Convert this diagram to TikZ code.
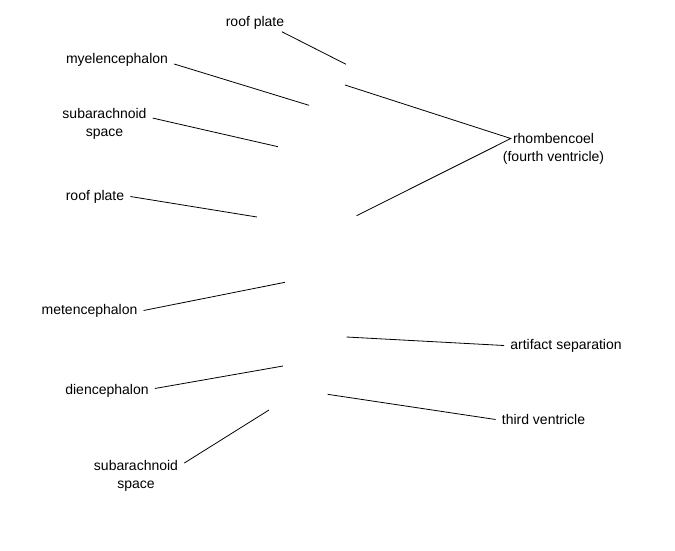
\documentclass[tikz,border=0pt]{standalone}
\usepackage{fontspec}
\setmainfont{Liberation Sans}
\usetikzlibrary{positioning}
\tikzstyle{part_label} = [inner xsep=6pt, inner ysep=2pt, align=center, font=\fontsize{14}{17.3}\selectfont]
\tikzstyle{leader} = [line width=0.8pt, draw=black]

\begin{document}
\begin{tikzpicture}[x=1pt, y=-1pt]
        \useasboundingbox (0,0) rectangle (675,550);

        \node (roof_plate_top) [part_label] at (255,23) {roof plate};
        \node (myelencephalon) [part_label] at (117,60) {myelencephalon};
        \node (subarachnoid_top) [part_label] at (104.5,124) {subarachnoid\\space};
        \node (roof_plate_mid) [part_label] at (95,196.5) {roof plate};
        \node (rhombencoel) [part_label, inner xsep=2pt] at (553.5,138.5) {rhombencoel};
        \node (fourth_ventricle) [part_label, below=3pt of rhombencoel] {(fourth ventricle)};
        \node (metencephalon) [part_label] at (89.5,310.5) {metencephalon};
        \node (artifact) [part_label] at (566,345.5) {artifact separation};
        \node (diencephalon) [part_label] at (107,391) {diencephalon};
        \node (third_ventricle) [part_label] at (543.5,419.5) {third ventricle};
        \node (subarachnoid_bottom) [part_label] at (136,476) {subarachnoid\\space};

        \coordinate (roof_plate_top_pt) at (346,64.3);
        \coordinate (myelencephalon_pt) at (309,105.3);
        \coordinate (subarachnoid_top_pt) at (278,146.7);
        \coordinate (roof_plate_mid_pt) at (257,217);
        \coordinate (rhombencoel_upper_pt) at (345,85);
        \coordinate (rhombencoel_lower_pt) at (356.5,215.7);
        \coordinate (metencephalon_pt) at (285,282.3);
        \coordinate (artifact_pt) at (346.5,337);
        \coordinate (diencephalon_pt) at (283,366);
        \coordinate (third_ventricle_pt) at (327.6,394.3);
        \coordinate (subarachnoid_bottom_pt) at (269,410);

        \draw [leader] (roof_plate_top.342) -- (roof_plate_top_pt);
        \draw [leader] (myelencephalon.356) -- (myelencephalon_pt);
        \draw [leader] (subarachnoid_top.7) -- (subarachnoid_top_pt);
        \draw [leader] (roof_plate_mid.east) -- (roof_plate_mid_pt);
        \draw [leader] (rhombencoel_upper_pt) -- (rhombencoel.west) -- (rhombencoel_lower_pt);
        \draw [leader] (metencephalon.east) -- (metencephalon_pt);
        \draw [leader] (artifact_pt) -- (artifact.west);
        \draw [leader] (diencephalon.3) -- (diencephalon_pt);
        \draw [leader] (third_ventricle_pt) -- (third_ventricle.west);
        \draw [leader] (subarachnoid_bottom.15) -- (subarachnoid_bottom_pt);
    \end{tikzpicture}
\end{document}
